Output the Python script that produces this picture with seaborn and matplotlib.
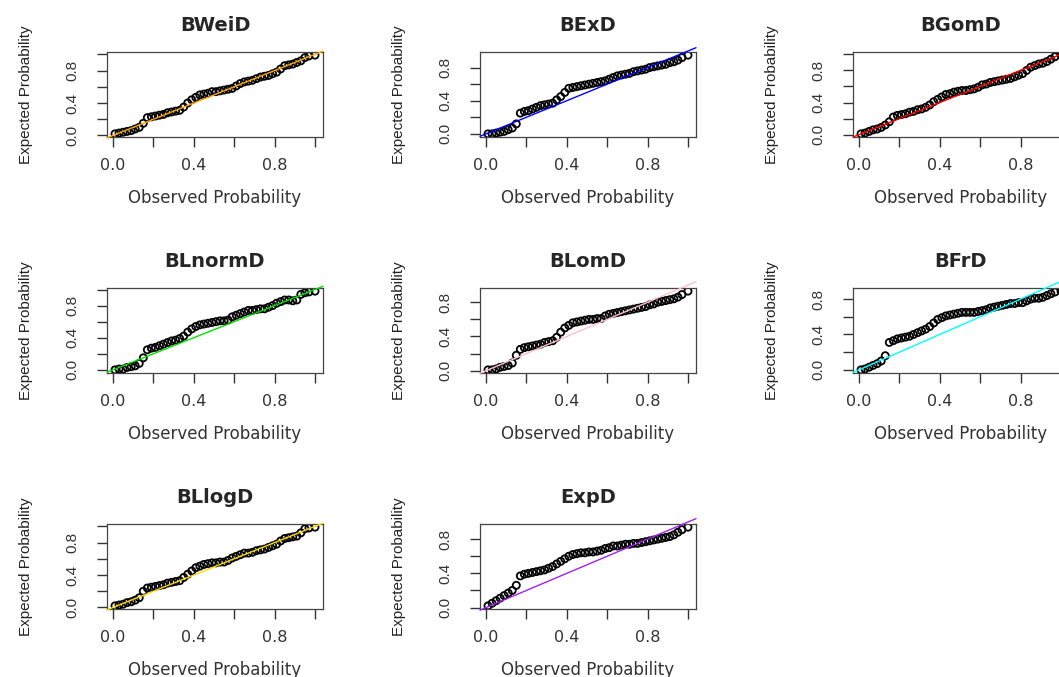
import matplotlib
matplotlib.use("Agg")
import matplotlib.pyplot as plt
import seaborn as sns
from matplotlib.ticker import MultipleLocator, FuncFormatter

# observed probabilities (shared by every panel)
obs = [0.01, 0.03, 0.05, 0.07, 0.09, 0.11, 0.13, 0.15, 0.17, 0.19,
       0.21, 0.23, 0.25, 0.27, 0.29, 0.31, 0.33, 0.35, 0.37, 0.39,
       0.41, 0.43, 0.45, 0.47, 0.49, 0.51, 0.53, 0.55, 0.57, 0.59,
       0.61, 0.63, 0.65, 0.67, 0.69, 0.71, 0.73, 0.75, 0.77, 0.79,
       0.81, 0.83, 0.85, 0.87, 0.89, 0.91, 0.93, 0.95, 0.97, 1.00]

# expected probabilities for each fitted distribution
bweid = [0.02, 0.03, 0.04, 0.05, 0.06, 0.08, 0.10, 0.15, 0.22, 0.23,
         0.24, 0.25, 0.26, 0.28, 0.29, 0.30, 0.31, 0.35, 0.40, 0.44,
         0.47, 0.50, 0.51, 0.52, 0.54, 0.54, 0.55, 0.56, 0.57, 0.58,
         0.61, 0.64, 0.66, 0.67, 0.68, 0.70, 0.72, 0.73, 0.74, 0.76,
         0.78, 0.82, 0.86, 0.87, 0.88, 0.90, 0.92, 0.96, 0.98, 0.99]
bexd = [0.00, 0.00, 0.01, 0.02, 0.03, 0.05, 0.07, 0.12, 0.25, 0.27,
        0.28, 0.30, 0.32, 0.34, 0.35, 0.36, 0.37, 0.41, 0.45, 0.50,
        0.55, 0.56, 0.57, 0.58, 0.59, 0.60, 0.61, 0.62, 0.63, 0.64,
        0.66, 0.68, 0.70, 0.71, 0.72, 0.73, 0.75, 0.76, 0.77, 0.78,
        0.80, 0.81, 0.82, 0.83, 0.84, 0.86, 0.87, 0.89, 0.92, 0.95]
bgomd = [0.01, 0.02, 0.04, 0.06, 0.07, 0.09, 0.12, 0.16, 0.22, 0.24,
         0.25, 0.26, 0.28, 0.29, 0.31, 0.32, 0.34, 0.37, 0.41, 0.44,
         0.47, 0.50, 0.51, 0.53, 0.54, 0.55, 0.55, 0.56, 0.57, 0.59,
         0.62, 0.63, 0.65, 0.66, 0.67, 0.68, 0.69, 0.70, 0.72, 0.74,
         0.76, 0.80, 0.84, 0.86, 0.88, 0.89, 0.91, 0.94, 0.97, 0.99]
blnormd = [0.00, 0.01, 0.01, 0.03, 0.04, 0.05, 0.08, 0.15, 0.25, 0.27,
           0.28, 0.30, 0.32, 0.34, 0.36, 0.37, 0.39, 0.42, 0.47, 0.51,
           0.54, 0.56, 0.57, 0.58, 0.59, 0.60, 0.61, 0.61, 0.62, 0.66,
           0.68, 0.70, 0.72, 0.74, 0.74, 0.75, 0.76, 0.76, 0.78, 0.80,
           0.83, 0.85, 0.87, 0.87, 0.86, 0.87, 0.94, 0.96, 0.97, 0.98]
blomd = [0.01, 0.01, 0.02, 0.04, 0.05, 0.06, 0.09, 0.18, 0.25, 0.27,
         0.28, 0.29, 0.30, 0.31, 0.33, 0.34, 0.35, 0.39, 0.45, 0.50,
         0.53, 0.56, 0.57, 0.58, 0.59, 0.60, 0.60, 0.61, 0.61, 0.64,
         0.66, 0.67, 0.68, 0.69, 0.70, 0.71, 0.72, 0.73, 0.74, 0.75,
         0.77, 0.78, 0.80, 0.81, 0.82, 0.83, 0.84, 0.86, 0.89, 0.93]
bfrd = [0.00, 0.01, 0.03, 0.05, 0.07, 0.10, 0.16, 0.31, 0.33, 0.35,
        0.36, 0.37, 0.38, 0.40, 0.42, 0.44, 0.46, 0.49, 0.53, 0.57,
        0.59, 0.61, 0.62, 0.63, 0.64, 0.65, 0.65, 0.65, 0.65, 0.66,
        0.67, 0.68, 0.70, 0.71, 0.72, 0.73, 0.74, 0.75, 0.75, 0.76,
        0.76, 0.78, 0.80, 0.81, 0.81, 0.82, 0.84, 0.86, 0.88, 0.89]
bllogd = [0.02, 0.03, 0.04, 0.06, 0.07, 0.09, 0.12, 0.20, 0.24, 0.25,
          0.26, 0.27, 0.28, 0.30, 0.31, 0.32, 0.33, 0.37, 0.41, 0.45,
          0.49, 0.51, 0.53, 0.54, 0.55, 0.55, 0.56, 0.56, 0.58, 0.61,
          0.63, 0.65, 0.67, 0.67, 0.68, 0.70, 0.71, 0.72, 0.74, 0.76,
          0.78, 0.82, 0.85, 0.86, 0.87, 0.88, 0.92, 0.97, 0.98, 0.99]
expd = [0.02, 0.05, 0.08, 0.11, 0.14, 0.17, 0.20, 0.26, 0.37, 0.39,
        0.40, 0.41, 0.42, 0.43, 0.44, 0.46, 0.48, 0.51, 0.54, 0.57,
        0.60, 0.62, 0.63, 0.64, 0.64, 0.65, 0.65, 0.66, 0.67, 0.69,
        0.70, 0.72, 0.72, 0.73, 0.74, 0.74, 0.75, 0.75, 0.76, 0.77,
        0.78, 0.79, 0.80, 0.81, 0.82, 0.83, 0.85, 0.88, 0.91, 0.94]

titles = ["BWeiD", "BExD", "BGomD", "BLnormD", "BLomD", "BFrD", "BLlogD", "ExpD"]
expected = [bweid, bexd, bgomd, blnormd, blomd, bfrd, bllogd, expd]
line_colors = ["orange", "blue", "red", "#00e000", "pink", "cyan", "gold", "#a020f0"]

sns.set_style("white")
plt.rcParams["font.family"] = ["DejaVu Sans"]
narrow = ["Liberation Sans", "DejaVu Sans"]

W, H = 1059, 677
fig = plt.figure(figsize=(W / 100, H / 100), dpi=100)


def r_lim(vals):
    # R style axis range: data range plus 4% each side
    lo, hi = min(vals), max(vals)
    pad = 0.04 * (hi - lo)
    return lo - pad, hi + pad


def alt_label(v, pos):
    return f"{v:.1f}" if round(v / 0.2) % 2 == 0 else ""


for i, (name, exp, col) in enumerate(zip(titles, expected, line_colors)):
    r, c = divmod(i, 3)
    left = 107 + 373 * c
    top = 52 + 236 * r
    ax = fig.add_axes([left / W, 1 - (top + 85) / H, 216 / W, 85 / H])

    sns.scatterplot(x=obs, y=exp, ax=ax, marker="o", s=26,
                    facecolors="none", edgecolors="black", linewidth=1.3)
    xl = r_lim(obs)
    yl = r_lim(exp)
    # reference line y = x, not clipped to the box (as in the original)
    ax.plot(xl, xl, color=col, lw=1.0, clip_on=False, zorder=3)
    ax.set_xlim(xl)
    ax.set_ylim(yl)

    ax.xaxis.set_major_locator(MultipleLocator(0.2))
    ax.yaxis.set_major_locator(MultipleLocator(0.2))
    ax.xaxis.set_major_formatter(FuncFormatter(alt_label))
    ax.yaxis.set_major_formatter(FuncFormatter(alt_label))
    ax.tick_params(axis="x", length=7, width=1, pad=8, labelsize=11.5,
                   colors="#333333", bottom=True)
    ax.tick_params(axis="y", length=7, width=1, pad=13, labelsize=11,
                   labelrotation=90, labelfontfamily=narrow,
                   colors="#333333", left=True)
    for lab in ax.get_yticklabels():
        lab.set_va("center")

    for sp in ax.spines.values():
        sp.set_color("#444444")
        sp.set_linewidth(0.9)

    ax.set_title(name, fontsize=14, fontweight="bold", pad=15)
    ax.set_xlabel("Observed Probability", fontsize=12, color="#333333")
    ax.set_ylabel("Expected Probability", fontsize=11, family=narrow,
                  color="#222222")
    ax.xaxis.set_label_coords(0.5, -0.61)
    ax.yaxis.set_label_coords(-0.343, 0.5)

fig.savefig("out.png", dpi=100)
